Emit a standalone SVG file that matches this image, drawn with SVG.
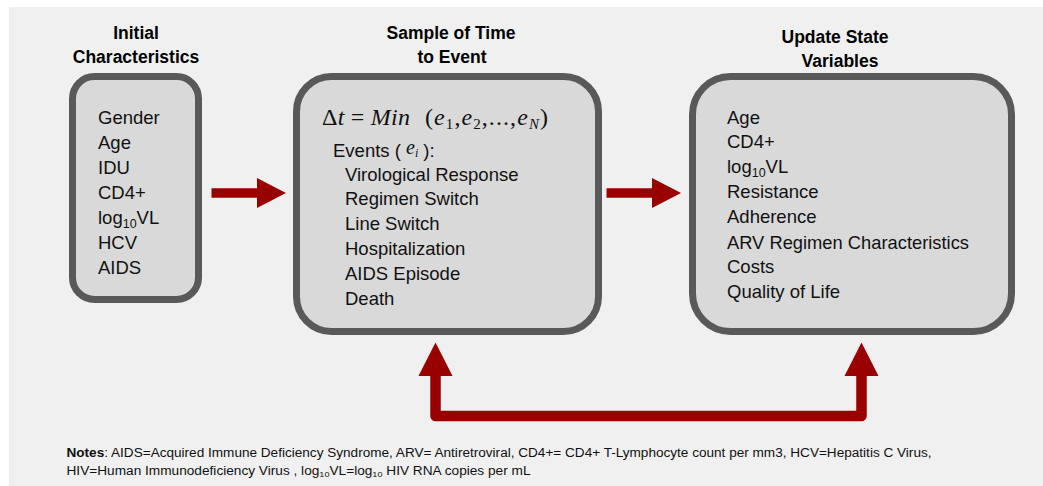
<svg xmlns="http://www.w3.org/2000/svg" width="1043" height="486" viewBox="0 0 1043 486">
<style>
.bg{fill:#f0f0f0}
.box{fill:#d9d9d9;stroke:#595959;stroke-width:7}
.title{font-family:"Liberation Sans",Arial,sans-serif;font-weight:bold;font-size:17.5px;fill:#000;text-anchor:middle}
.body{font-family:"Liberation Sans",Arial,sans-serif;font-size:18.5px;fill:#111}
.math{font-family:"Liberation Serif","Times New Roman",serif;font-size:24px;fill:#111}
.note{font-family:"Liberation Sans",Arial,sans-serif;font-size:12px;fill:#111}
.conn{fill:none;stroke:#990000}
.head{fill:#990000}
</style>
<defs>
<marker id="hH" markerUnits="userSpaceOnUse" markerWidth="30" markerHeight="30" refX="0" refY="15" orient="auto" overflow="visible">
<path class="head" d="M0,0 L29,15 L0,30 Z"/>
</marker>
<marker id="hV" markerUnits="userSpaceOnUse" markerWidth="34" markerHeight="34" refX="0" refY="17" orient="auto-start-reverse" overflow="visible">
<path class="head" d="M0,0 L33.5,17 L0,34 Z"/>
</marker>
</defs>
<rect class="bg" x="9" y="7" width="1034" height="479"/>

<g id="initial">
<text class="title" x="136" y="39">Initial</text>
<text class="title" x="136" y="63">Characteristics</text>
<rect class="box" x="72.5" y="76.5" width="126" height="223" rx="22" ry="22"/>
<text class="body" x="98" y="124">Gender</text>
<text class="body" x="98" y="149">Age</text>
<text class="body" x="98" y="174">IDU</text>
<text class="body" x="98" y="199">CD4+</text>
<text class="body" x="98" y="224">log<tspan font-size="12.5" dy="4">10</tspan><tspan dy="-4">VL</tspan></text>
<text class="body" x="98" y="249">HCV</text>
<text class="body" x="98" y="274">AIDS</text>
</g>

<g id="sample">
<text class="title" x="451" y="39">Sample of Time</text>
<text class="title" x="452" y="63">to Event</text>
<rect class="box" x="296.5" y="76.5" width="302" height="255" rx="35" ry="35"/>
<text class="math" x="322" y="125" textLength="88" lengthAdjust="spacing">Δ<tspan font-style="italic">t</tspan> = <tspan font-style="italic">Min</tspan></text>
<text class="math" x="425" y="125" textLength="123" lengthAdjust="spacing">(<tspan font-style="italic">e</tspan><tspan font-size="15" dy="4">1</tspan><tspan dy="-4">,</tspan><tspan font-style="italic">e</tspan><tspan font-size="15" dy="4">2</tspan><tspan dy="-4">,...,</tspan><tspan font-style="italic">e</tspan><tspan font-size="15" font-style="italic" dy="4">N</tspan><tspan dy="-4">)</tspan></text>
<text class="body" x="333" y="157">Events ( <tspan font-family="Liberation Serif, serif" font-style="italic" font-size="20" dy="-3">e</tspan><tspan font-family="Liberation Serif, serif" font-style="italic" font-size="12" dy="3">i</tspan> ):</text>
<text class="body" x="345" y="181">Virological Response</text>
<text class="body" x="345" y="205">Regimen Switch</text>
<text class="body" x="345" y="230">Line Switch</text>
<text class="body" x="345" y="255">Hospitalization</text>
<text class="body" x="345" y="280">AIDS Episode</text>
<text class="body" x="345" y="305">Death</text>
</g>

<g id="update">
<text class="title" x="835" y="43">Update State</text>
<text class="title" x="840" y="67">Variables</text>
<rect class="box" x="692.5" y="76.5" width="319" height="255" rx="38" ry="38"/>
<text class="body" x="727" y="124">Age</text>
<text class="body" x="727" y="148">CD4+</text>
<text class="body" x="727" y="173">log<tspan font-size="12.5" dy="4">10</tspan><tspan dy="-4">VL</tspan></text>
<text class="body" x="727" y="198">Resistance</text>
<text class="body" x="727" y="223">Adherence</text>
<text class="body" x="727" y="249" textLength="242" lengthAdjust="spacingAndGlyphs">ARV Regimen Characteristics</text>
<text class="body" x="727" y="273">Costs</text>
<text class="body" x="727" y="298">Quality of Life</text>
</g>

<g id="connectors">
<line class="conn" x1="211.5" y1="193" x2="257" y2="193" stroke-width="9.5" marker-end="url(#hH)"/>
<line class="conn" x1="606.5" y1="193" x2="652" y2="193" stroke-width="9.5" marker-end="url(#hH)"/>
<path class="conn" d="M435.5,376 V416 H861.5 V376" stroke-width="10.5" stroke-linejoin="round" marker-start="url(#hV)" marker-end="url(#hV)"/>
</g>

<g id="notes">
<text class="note" x="66.5" y="456.5" textLength="865" lengthAdjust="spacingAndGlyphs"><tspan font-weight="bold">Notes</tspan>: AIDS=Acquired Immune Deficiency Syndrome,  ARV= Antiretroviral, CD4+= CD4+ T-Lymphocyte count per mm3, HCV=Hepatitis C Virus,</text>
<text class="note" x="66.5" y="474.5" textLength="464" lengthAdjust="spacingAndGlyphs">HIV=Human Immunodeficiency Virus , log<tspan font-size="8" dy="2">10</tspan><tspan dy="-2">VL=log</tspan><tspan font-size="8" dy="2">10</tspan><tspan dy="-2"> HIV RNA copies per mL</tspan></text>
</g>
</svg>
